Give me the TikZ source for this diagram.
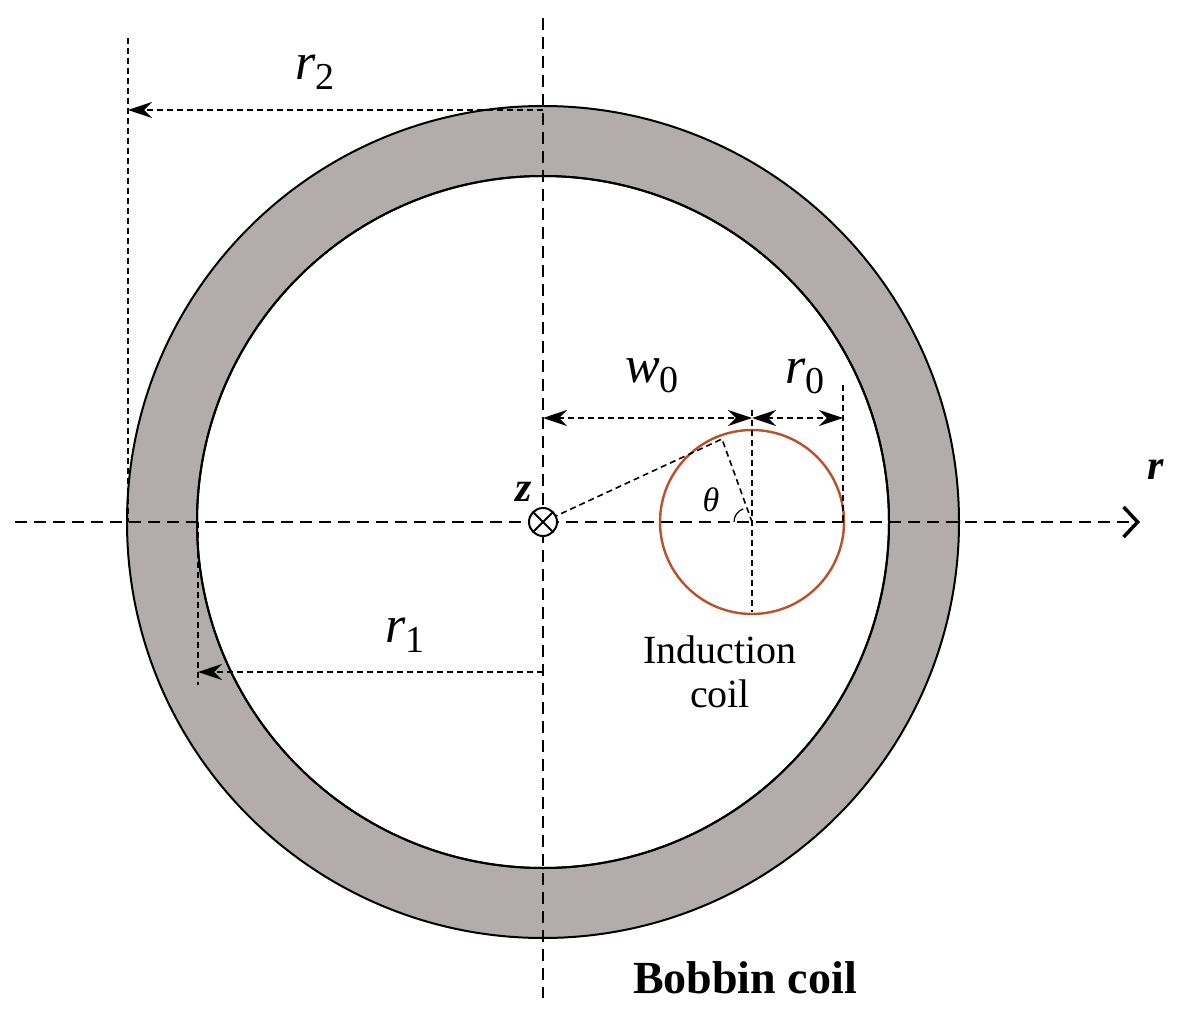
\documentclass[tikz,border=0pt]{standalone}
\usepackage{fontspec}
\setmainfont{Liberation Serif}
\usetikzlibrary{arrows.meta}
\newcommand{\varsub}[2]{{\fontsize{52}{52}\selectfont\itshape #1}\raisebox{-10pt}{\fontsize{38}{38}\selectfont #2}}
\begin{document}
\begin{tikzpicture}[x=1pt,y=-1pt,
  dim/.style={dashed,line width=1.6pt,dash pattern=on 6pt off 4pt},
  axis/.style={dashed,line width=2.4pt,dash pattern=on 12pt off 7pt},
  ah/.tip={Stealth[length=24pt,width=16pt]},
  txt/.style={font=\fontsize{40}{44}\selectfont,align=center}]
\useasboundingbox (0,0) rectangle (1186,1019);
\definecolor{ring}{RGB}{178,172,172}
\fill[ring,even odd rule,draw=black,line width=2pt] (543,522) circle (416) (543,522) circle (346);
\draw[line width=2pt] (543,522) circle (346);
\draw[brown!70!red!90!black,line width=2.4pt] (752,522) circle (92);
\coordinate (O) at (543,522);
\coordinate (C) at (752,522);
% axes
\draw[axis,-{Straight Barb[length=14pt,width=30pt,line width=3.5pt]}] (15,522) -- (1140,522);
\draw[axis] (543,18) -- (543,998);
% r2
\draw[dim] (128,38) -- (128,522);
\draw[dim,-ah] (543,110) -- (128,110);
\node at (315,72) {\varsub{r}{2}};
% r1
\draw[dim] (198,522) -- (198,685);
\draw[dim,-ah] (543,672) -- (198,672);
\node at (405,635) {\varsub{r}{1}};
% w0 r0
\draw[dim] (752,410) -- (752,612);
\draw[dim] (843,385) -- (843,522);
\draw[dim,ah-ah] (543,418) -- (752,418);
\draw[dim,ah-ah] (752,418) -- (843,418);
\node at (652,376) {\varsub{w}{0}};
\node at (805,376) {\varsub{r}{0}};
% theta
\coordinate (P) at (722,439);
\draw[dim] (O) -- (P) -- (C);
\draw[line width=1.2pt] (734,522) arc (180:250:14);
\node[font=\fontsize{34}{34}\selectfont\itshape] at (711,500) {θ};
% center symbol
\draw[fill=white,line width=2pt] (O) circle (14);
\draw[line width=2pt] (533,512) -- (553,532) (553,512) -- (533,532);
\node[font=\fontsize{42}{42}\selectfont\bfseries\itshape] at (524,492) {z};
\node[font=\fontsize{42}{42}\selectfont\bfseries\itshape] at (1156,470) {r};
\node[txt] at (720,672) {Induction\\coil};
\node[font=\fontsize{46}{46}\selectfont\bfseries] at (745,978) {Bobbin coil};
\end{tikzpicture}
\end{document}
